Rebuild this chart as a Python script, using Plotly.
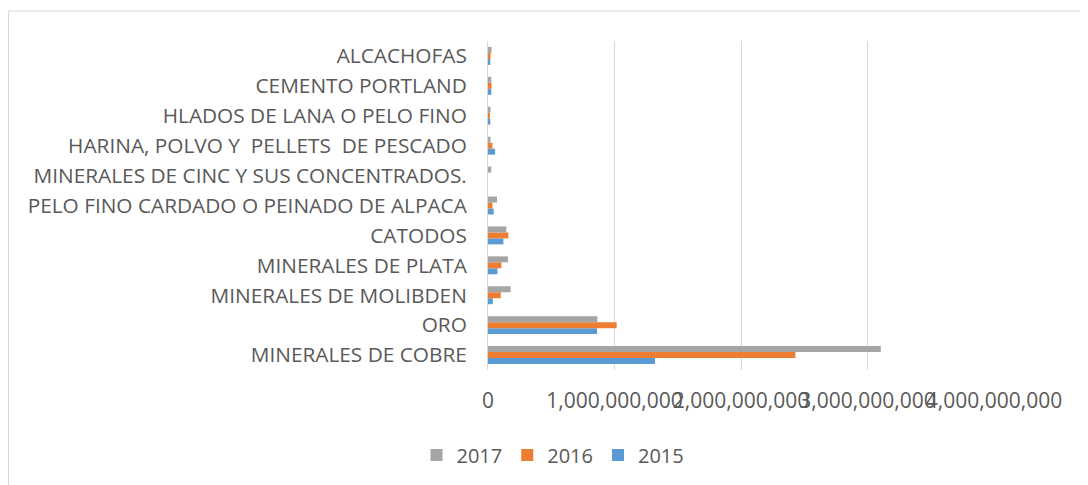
import plotly.graph_objects as go

categories = [
    "MINERALES DE COBRE",
    "ORO",
    "MINERALES DE MOLIBDEN",
    "MINERALES DE PLATA",
    "CATODOS",
    "PELO FINO CARDADO O PEINADO DE ALPACA",
    "MINERALES DE CINC Y SUS CONCENTRADOS.",
    "HARINA, POLVO Y  PELLETS  DE PESCADO",
    "HLADOS DE LANA O PELO FINO",
    "CEMENTO PORTLAND",
    "ALCACHOFAS",
]
values_2015 = [1.32e9, 0.862e9, 0.038e9, 0.075e9, 0.122e9, 0.045e9, 0.0, 0.056e9, 0.018e9, 0.026e9, 0.018e9]
values_2016 = [2.43e9, 1.017e9, 0.101e9, 0.106e9, 0.161e9, 0.035e9, 0.0, 0.035e9, 0.015e9, 0.028e9, 0.02e9]
values_2017 = [3.105e9, 0.865e9, 0.179e9, 0.158e9, 0.145e9, 0.071e9, 0.026e9, 0.02e9, 0.02e9, 0.026e9, 0.028e9]
tick_vals = [0, 1e9, 2e9, 3e9, 4e9]
tick_text = ["0", "1,000,000,000", "2,000,000,000", "3,000,000,000", "4,000,000,000"]

FONT = "Open Sans"
TXT = "#595959"

fig = go.Figure()
fig.add_trace(go.Bar(y=categories, x=values_2015, name="2015", orientation="h",
                     marker=dict(color="#5B9BD5", line=dict(width=0))))
fig.add_trace(go.Bar(y=categories, x=values_2016, name="2016", orientation="h",
                     marker=dict(color="#ED7D31", line=dict(width=0))))
fig.add_trace(go.Bar(y=categories, x=values_2017, name="2017", orientation="h",
                     marker=dict(color="#A5A5A5", line=dict(width=0))))

# page body has an 8px margin; figure is laid out in its own coordinates
FW, FH = 1080, 477
L, T = 480, 33
PR, PB = 986, 362
R, B = FW - PR, FH - PB
W, H = PR - L, PB - T

fig.update_layout(
    width=FW, height=FH,
    margin=dict(l=L, r=R, t=T, b=B, autoexpand=False),
    barmode="group", bargap=0.4, bargroupgap=0,
    paper_bgcolor="white", plot_bgcolor="white",
    font=dict(family=FONT, color=TXT, size=20),
    showlegend=True,
    legend=dict(orientation="h", traceorder="reversed", x=(545 - L) / W, xanchor="center",
                y=(PB - 447) / H, yanchor="middle", font=dict(size=20, color=TXT),
                bgcolor="rgba(0,0,0,0)"),
    xaxis=dict(range=[0, 4e9], tickvals=tick_vals, ticktext=tick_text, tickangle=0,
               showgrid=True, gridcolor="#D9D9D9", gridwidth=1, zeroline=False,
               showline=False, ticks="", ticklabelstandoff=16, ticklabeloverflow="allow",
               tickfont=dict(size=21, color=TXT, family=FONT)),
    yaxis=dict(categoryorder="array", categoryarray=categories, showgrid=False,
               showline=True, linecolor="#D9D9D9", linewidth=1, zeroline=False,
               ticks="", ticklabelstandoff=16, tickfont=dict(size=20.8, color=TXT, family=FONT)),
    shapes=[dict(type="rect", xref="paper", yref="paper",
                 x0=(0.5 - L) / W, x1=(FW + 20 - L) / W,
                 y0=(PB - FH - 20) / H, y1=(PB - 3) / H,
                 line=dict(color="#D9D9D9", width=1), fillcolor="rgba(0,0,0,0)", layer="below")],
)

fig.write_html("out.html")
